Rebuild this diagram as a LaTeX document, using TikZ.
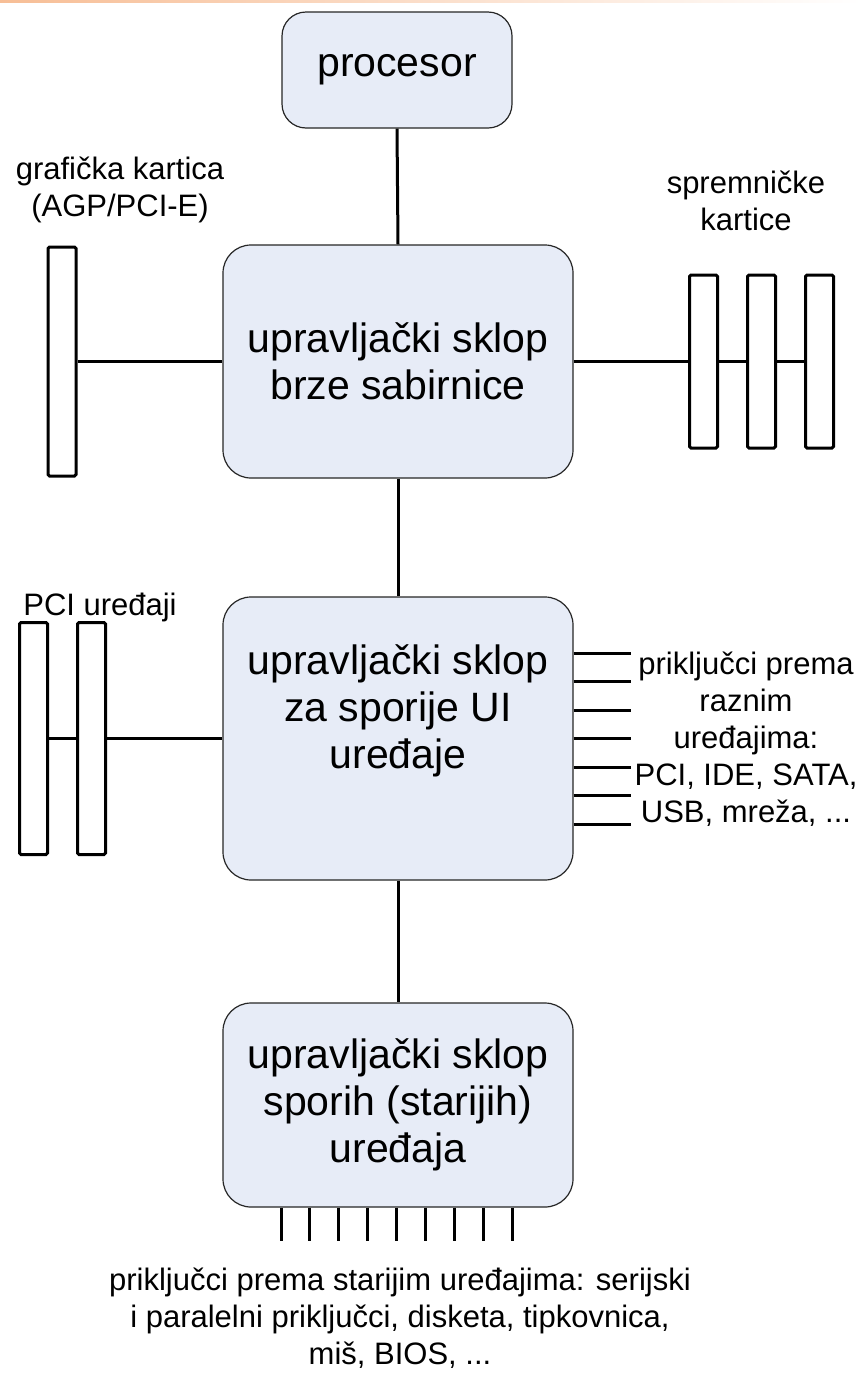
\documentclass[tikz,border=0pt]{standalone}
\usepackage{fontspec}
\setmainfont{Liberation Sans}
\definecolor{boxfill}{RGB}{231,236,247}
\definecolor{topline}{RGB}{247,190,150}
\newcommand{\bigtxt}{\fontsize{41}{47}\selectfont}
\newcommand{\smalltxt}{\fontsize{31}{37}\selectfont}
\begin{document}
\begin{tikzpicture}[x=1pt,y=-1pt,
  box/.style={draw=black!85, line width=1.2pt, fill=boxfill, rounded corners=28pt,
    align=center, inner sep=0pt, font=\bigtxt},
  card/.style={draw=black, line width=3pt, fill=white, rounded corners=1.5pt,
    minimum width=28pt, inner sep=0pt},
  wire/.style={line width=3pt, black},
  lbl/.style={align=center, font=\smalltxt, inner sep=0pt}]
\useasboundingbox (0,0) rectangle (862,1374);

% thin accent line along the top edge
\shade[left color=topline, right color=white] (0,0) rectangle (862,2.5);

% controller blocks
\node[box, minimum width=230, minimum height=116, rounded corners=24pt] (cpu) at (397,70) {procesor};
\node[box, minimum width=350, minimum height=233] (fast) at (398,361.5) {upravljački sklop\\brze sabirnice};
\node[box, minimum width=350, minimum height=283] (io) at (398,738.5) {};
\node[font=\bigtxt, align=center, inner sep=0pt] (io-text) at (398,711) {upravljački sklop\\za sporije UI\\uređaje};
\node[box, minimum width=350, minimum height=204] (legacy) at (398,1105) {upravljački sklop\\sporih (starijih)\\uređaja};

% expansion cards
\node[card, minimum height=229] (gfx) at (62,361.5) {};
\foreach \i/\x in {1/703.5,2/761.5,3/819.5}
  \node[card, minimum height=173] (mem\i) at (\x,361.5) {};
\foreach \i/\x in {1/33.5,2/91.5}
  \node[card, minimum height=232] (pci\i) at (\x,738.5) {};

% bus links
\draw[wire] (cpu.south) -- (fast.north);
\draw[wire] (fast.south) -- (io.north);
\draw[wire] (io.south) -- (legacy.north);
\draw[wire] (gfx.east) -- (fast.west);
\draw[wire] (fast.east) -- (mem1.west);
\draw[wire] (mem1.east) -- (mem2.west);
\draw[wire] (mem2.east) -- (mem3.west);
\draw[wire] (pci1.east) -- (pci2.west);
\draw[wire] (pci2.east) -- (io.west);

% I/O ports on the right side
\foreach \k in {0,...,6} {
  \coordinate (port\k) at (631,{653+28.5*\k});
  \draw[wire] (port\k -| io.east) -- (port\k);
}

% legacy ports below
\foreach \k in {0,...,8} {
  \coordinate (leg\k) at ({281+28.9*\k},1241);
  \draw[wire] (leg\k |- legacy.south) -- (leg\k);
}

% labels
\node[lbl] (gfx-label) at (120,190) {grafička kartica\\(AGP/PCI-E)};
\node[lbl] (mem-label) at (746,201) {spremničke\\kartice};
\node[lbl] (pci-label) at (100,607) {PCI uređaji};
\node[lbl] (ports-label) at (746,739) {priključci prema\\raznim\\uređajima:\\PCI, IDE, SATA,\\USB, mreža, ...};
\node[lbl] (legacy-label) at (400,1318) {priključci prema starijim uređajima: serijski\\i paralelni priključci, disketa, tipkovnica,\\miš, BIOS, ...};
\end{tikzpicture}
\end{document}
